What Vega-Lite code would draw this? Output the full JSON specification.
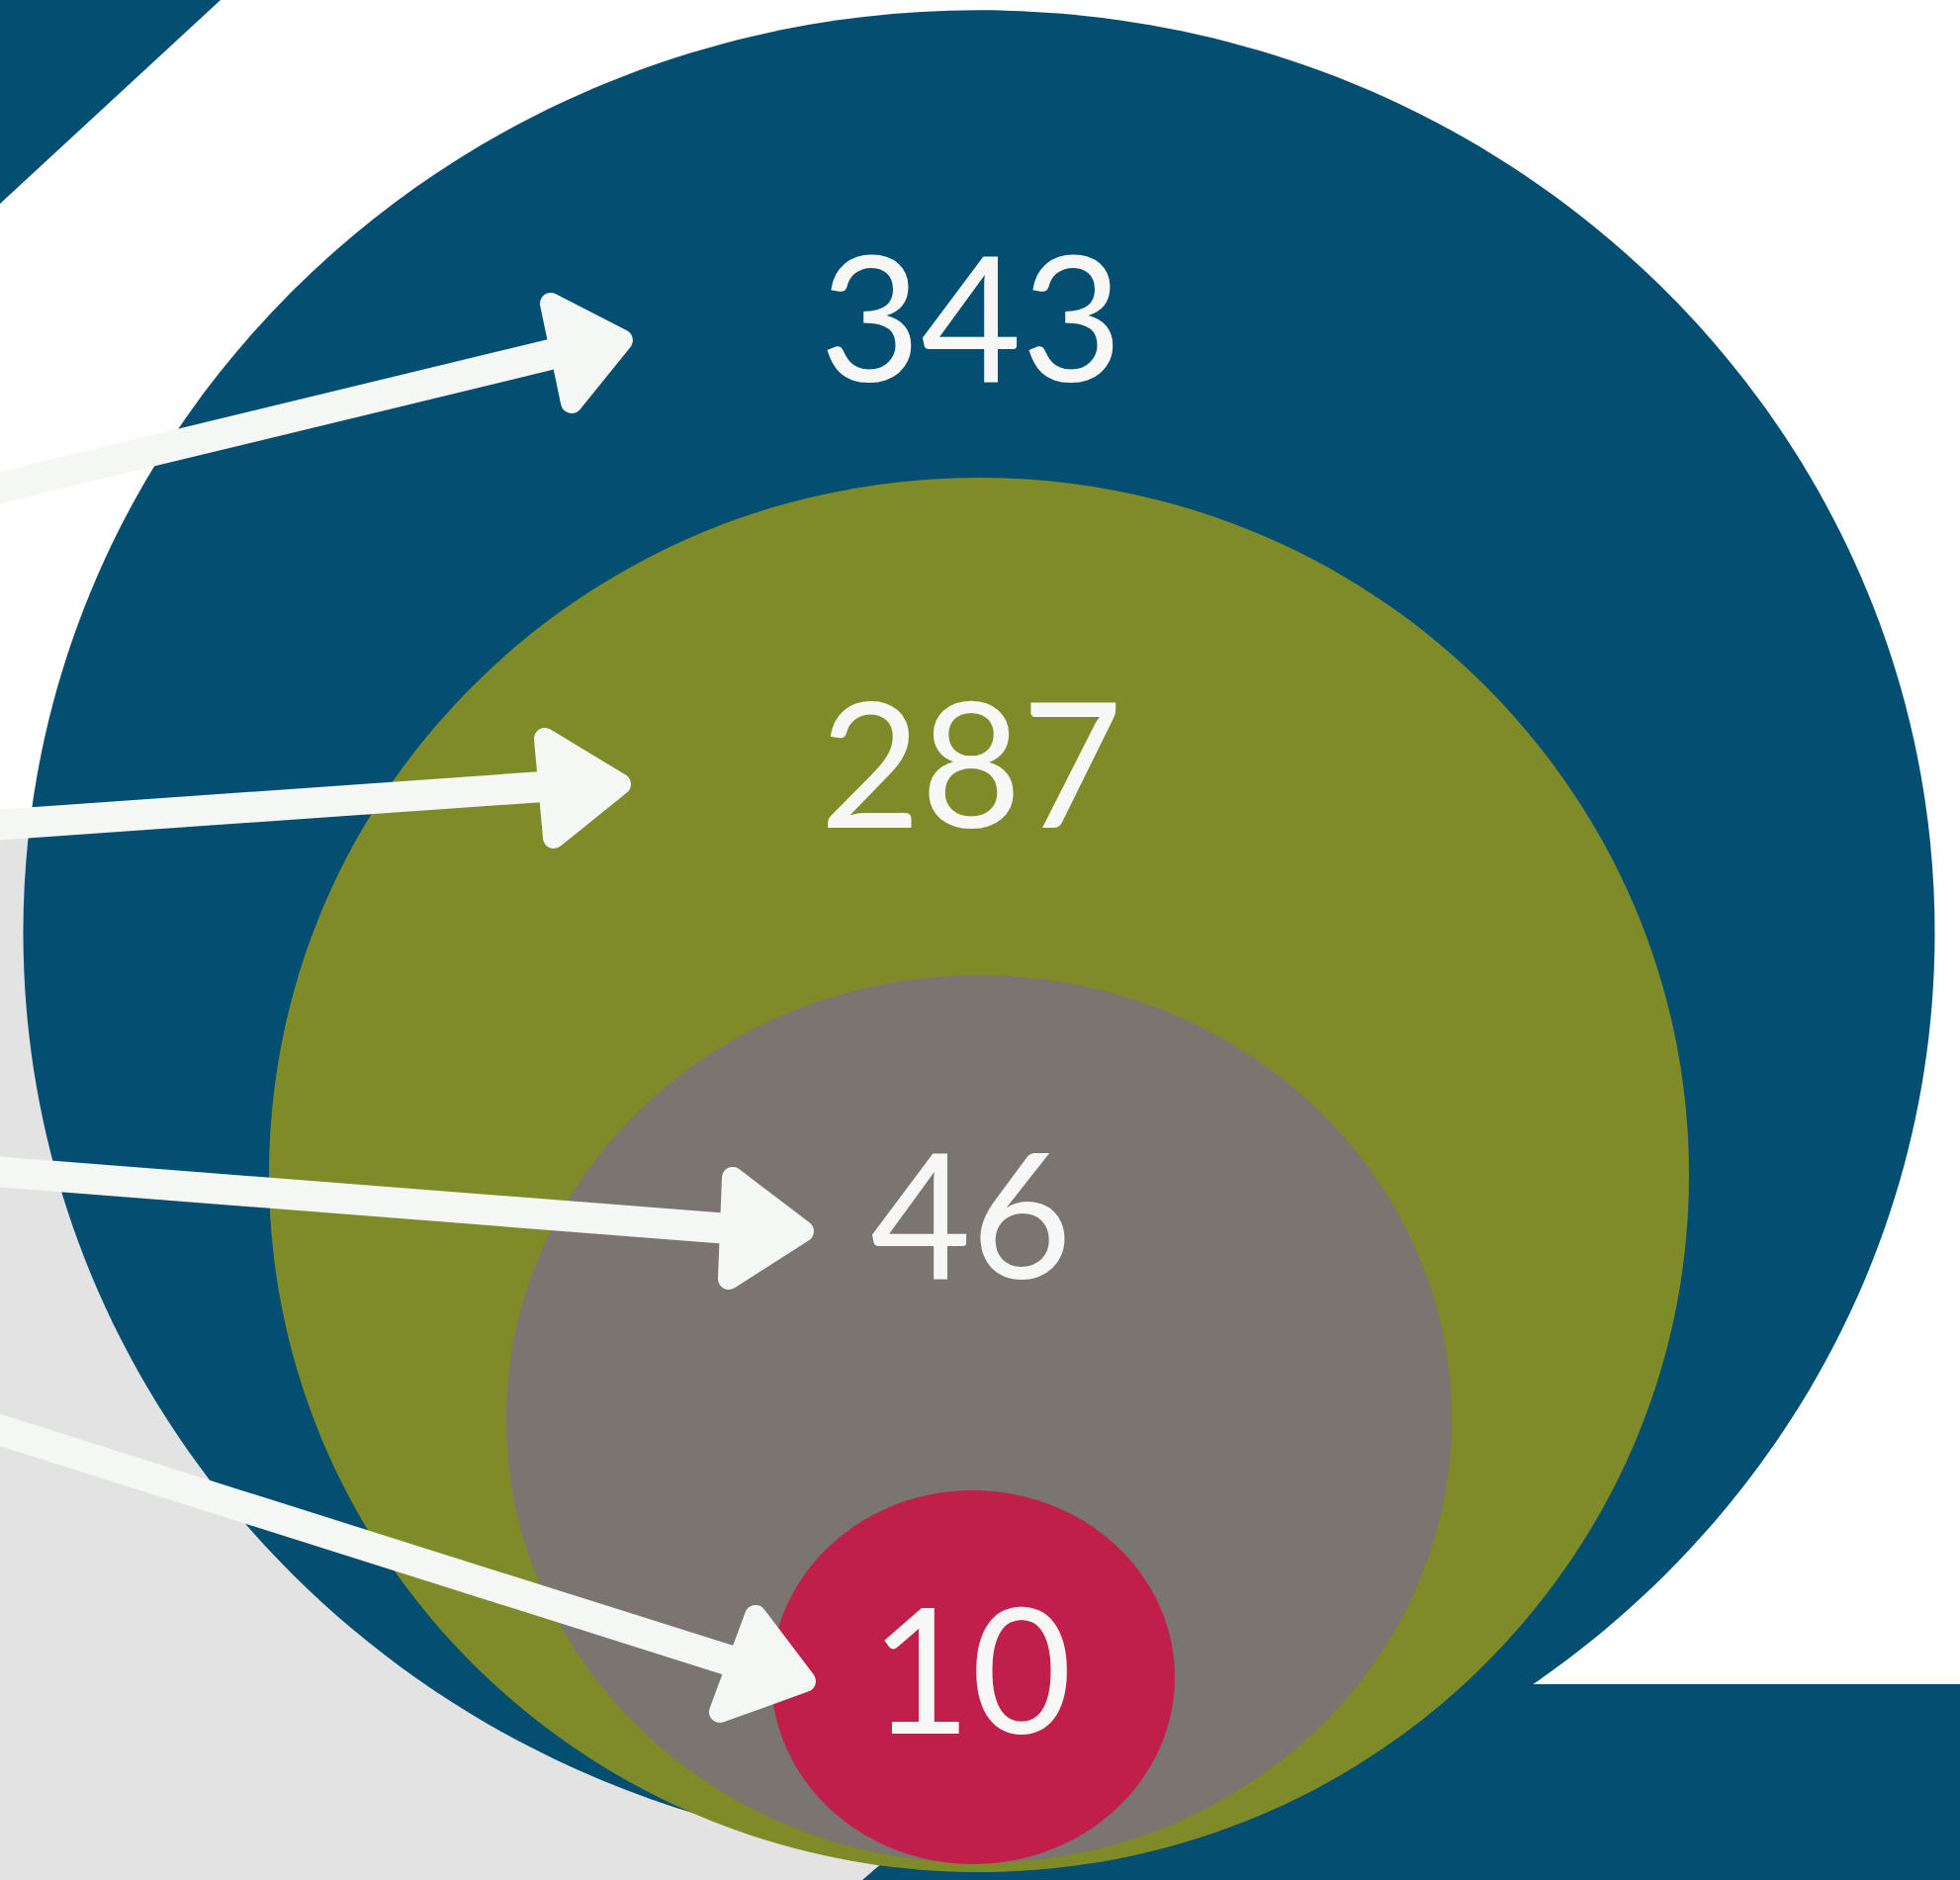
{
  "$schema": "https://vega.github.io/schema/vega-lite/v6.json",
  "width": 1982,
  "height": 1901,
  "autosize": {"type": "none"},
  "padding": 0,
  "background": "#ffffff",
  "config": {"view": {"stroke": null}, "legend": {"disable": true}},
  "datasets": {
    "counts": [
      {"label": "343", "value": 343},
      {"label": "287", "value": 287},
      {"label": "46", "value": 46},
      {"label": "10", "value": 10}
    ],
    "bg": [
      {"part": "corner", "x": 0, "y": 206, "y2": 0},
      {"part": "corner", "x": 223, "y": 0, "y2": 0},
      {"part": "ground", "x": 0, "y": 835, "y2": 1901},
      {"part": "ground", "x": 872, "y": 835, "y2": 1901},
      {"part": "ground", "x": 1102, "y": 835, "y2": 1703},
      {"part": "base", "x": 872, "y": 1901, "y2": 1901},
      {"part": "base", "x": 1102, "y": 1703, "y2": 1901},
      {"part": "base", "x": 1982, "y": 1703, "y2": 1901}
    ],
    "shafts": [
      {"arrow": "a343", "x": -20, "y": 498, "x2": 575, "y2": 354},
      {"arrow": "a287", "x": -20, "y": 835.4, "x2": 570, "y2": 794},
      {"arrow": "a46", "x": -20, "y": 1183.4, "x2": 750, "y2": 1243.5},
      {"arrow": "a10", "x": -20, "y": 1439.7, "x2": 745, "y2": 1681.4}
    ],
    "heads": [
      {"arrow": "a343", "i": 0, "x": 557, "y": 307},
      {"arrow": "a343", "i": 1, "x": 629, "y": 344},
      {"arrow": "a343", "i": 2, "x": 578, "y": 407},
      {"arrow": "a343", "i": 3, "x": 557, "y": 307},
      {"arrow": "a287", "i": 0, "x": 551, "y": 747},
      {"arrow": "a287", "i": 1, "x": 627, "y": 793},
      {"arrow": "a287", "i": 2, "x": 560, "y": 847},
      {"arrow": "a287", "i": 3, "x": 551, "y": 747},
      {"arrow": "a46", "i": 0, "x": 741, "y": 1191},
      {"arrow": "a46", "i": 1, "x": 812, "y": 1245},
      {"arrow": "a46", "i": 2, "x": 737, "y": 1293},
      {"arrow": "a46", "i": 3, "x": 741, "y": 1191},
      {"arrow": "a10", "i": 0, "x": 764, "y": 1634},
      {"arrow": "a10", "i": 1, "x": 814, "y": 1700},
      {"arrow": "a10", "i": 2, "x": 728, "y": 1731},
      {"arrow": "a10", "i": 3, "x": 764, "y": 1634}
    ]
  },
  "resolve": {"scale": {"x": "independent", "y": "independent", "color": "independent", "size": "independent", "shape": "independent"}},
  "layer": [
    {
      "data": {"name": "bg"},
      "mark": {"type": "area", "opacity": 1},
      "encoding": {
        "x": {"field": "x", "type": "quantitative", "scale": {"domain": [0, 1982], "nice": false, "zero": false}, "axis": null},
        "y": {"field": "y", "type": "quantitative", "scale": {"domain": [1901, 0], "nice": false, "zero": false}, "axis": null},
        "y2": {"field": "y2"},
        "color": {"field": "part", "type": "nominal", "scale": {"domain": ["corner", "ground", "base"], "range": ["#044f71", "#e3e3e3", "#044f71"]}, "legend": null}
      }
    },
    {
      "data": {"name": "counts"},
      "mark": {"type": "point", "filled": true, "opacity": 1, "strokeWidth": 0},
      "encoding": {
        "x": {"field": "value", "type": "quantitative", "scale": {"domain": [10, 46, 287, 343], "range": [984, 990, 990, 990], "nice": false, "zero": false}, "axis": null},
        "y": {"field": "value", "type": "quantitative", "scale": {"domain": [10, 46, 287, 343], "range": [1696, 1435, 1188, 943], "nice": false, "zero": false}, "axis": null},
        "size": {"field": "value", "type": "quantitative", "scale": {"domain": [10, 46, 287, 343], "range": [166464, 913936, 2062096, 3736489], "zero": false}, "legend": null},
        "shape": {"field": "label", "type": "nominal", "scale": {"domain": ["343", "287", "46", "10"], "range": [
          "M-1,0A1,0.965,0,1,1,1,0A1,0.965,0,1,1,-1,0Z",
          "M-1,0A1,0.982,0,1,1,1,0A1,0.982,0,1,1,-1,0Z",
          "M-1,0A1,0.939,0,1,1,1,0A1,0.939,0,1,1,-1,0Z",
          "M-1,0A1,0.926,0,1,1,1,0A1,0.926,0,1,1,-1,0Z"
        ]}, "legend": null},
        "color": {"field": "label", "type": "nominal", "scale": {"domain": ["343", "287", "46", "10"], "range": ["#044f71", "#7f8b29", "#7a7571", "#c01f4c"]}, "legend": null},
        "order": {"field": "value", "sort": "descending"}
      }
    },
    {
      "data": {"name": "counts"},
      "mark": {"type": "text", "font": "Lato", "fontSize": 176, "align": "center", "baseline": "alphabetic", "color": "#f7f8f5"},
      "encoding": {
        "x": {"datum": 982, "type": "quantitative", "scale": {"domain": [0, 1982], "nice": false, "zero": false}, "axis": null},
        "y": {"field": "value", "type": "quantitative", "scale": {"domain": [10, 46, 287, 343], "range": [1753, 1293, 837, 386], "nice": false, "zero": false}, "axis": null},
        "text": {"field": "label", "type": "nominal"}
      }
    },
    {
      "layer": [
        {
          "data": {"name": "shafts"},
          "mark": {"type": "rule", "color": "#f5f7f4", "strokeWidth": 31, "strokeCap": "butt"},
          "encoding": {
            "x": {"field": "x", "type": "quantitative", "scale": {"domain": [0, 1982], "nice": false, "zero": false}, "axis": null},
            "y": {"field": "y", "type": "quantitative", "scale": {"domain": [1901, 0], "nice": false, "zero": false}, "axis": null},
            "x2": {"field": "x2"},
            "y2": {"field": "y2"}
          }
        },
        {
          "data": {"name": "heads"},
          "mark": {"type": "line", "fill": "#f5f7f4", "stroke": "#f5f7f4", "strokeWidth": 22, "strokeJoin": "round", "strokeCap": "round"},
          "encoding": {
            "x": {"field": "x", "type": "quantitative", "axis": null},
            "y": {"field": "y", "type": "quantitative", "axis": null},
            "detail": {"field": "arrow", "type": "nominal"},
            "order": {"field": "i", "type": "quantitative"}
          }
        }
      ]
    }
  ]
}
